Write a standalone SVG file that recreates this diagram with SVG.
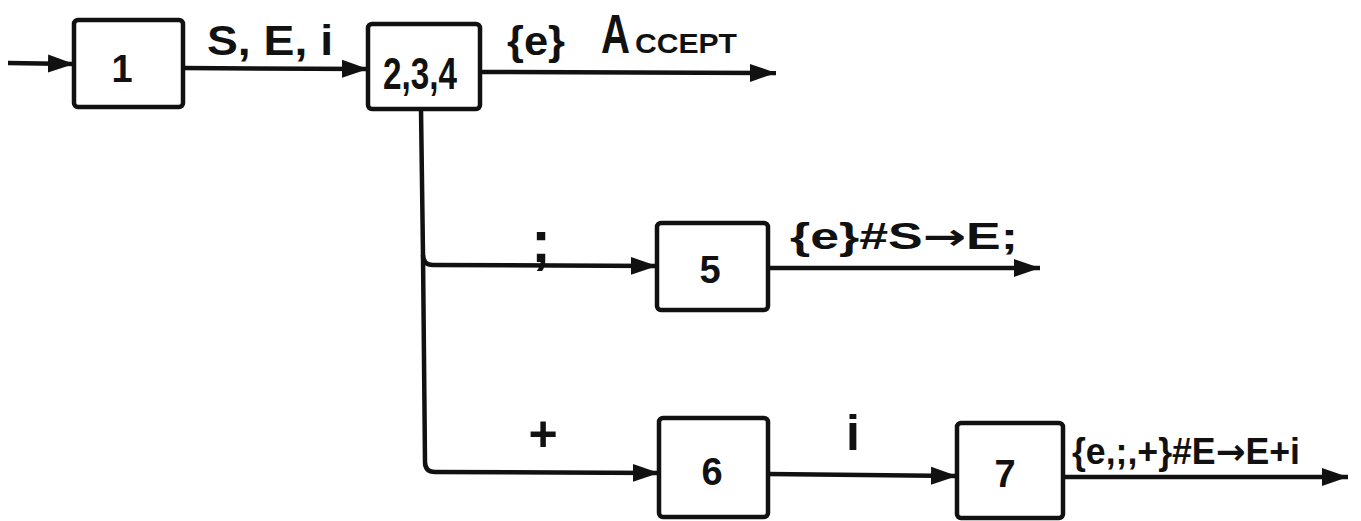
<svg xmlns="http://www.w3.org/2000/svg" width="1361" height="521" viewBox="0 0 1361 521">
<style>
.box{fill:#fff;stroke:#111;stroke-width:4.5}
.edge{fill:none;stroke:#111;stroke-width:4.5;stroke-linejoin:round}
text{font-family:"Liberation Sans","DejaVu Sans",sans-serif;fill:#111;font-weight:bold}
.n{text-anchor:middle;font-size:38px}
.arr{font-family:"DejaVu Sans",sans-serif}
</style>
<defs>
<marker id="ah" markerUnits="userSpaceOnUse" markerWidth="28" markerHeight="20" refX="26" refY="10" orient="auto">
<path d="M0,1 L26,10 L0,19 Z" fill="#111"/>
</marker>
</defs>
<rect width="1361" height="521" fill="#fff"/>
<g id="connectors">
<path class="edge" d="M8,63 L74,64" marker-end="url(#ah)"/>
<path class="edge" d="M183,68 L368,69" marker-end="url(#ah)"/>
<path class="edge" d="M480,72 L776,73" marker-end="url(#ah)"/>
<path class="edge" d="M421,109 L423,255 Q423,265 433,265 L657,266" marker-end="url(#ah)"/>
<path class="edge" d="M423,255 L425,462 Q425,472 435,472 L659,473" marker-end="url(#ah)"/>
<path class="edge" d="M768,268 L1040,268" marker-end="url(#ah)"/>
<path class="edge" d="M768,474 L957,476" marker-end="url(#ah)"/>
<path class="edge" d="M1063,477 L1348,477" marker-end="url(#ah)"/>
<text x="207" y="55" font-size="42" textLength="126" lengthAdjust="spacingAndGlyphs">S, E, i</text>
<text x="507" y="55" font-size="40" textLength="58" lengthAdjust="spacingAndGlyphs">{e}</text>
<text x="601" y="53" font-size="56" textLength="29" lengthAdjust="spacingAndGlyphs">A</text>
<text x="635" y="53" font-size="28" textLength="102" lengthAdjust="spacingAndGlyphs">CCEPT</text>
<text x="541" y="262" font-size="60" text-anchor="middle">;</text>
<text x="790" y="249" font-size="36" textLength="228" lengthAdjust="spacingAndGlyphs">{e}#S<tspan class="arr">→</tspan>E;</text>
<text x="543" y="451" font-size="50" text-anchor="middle">+</text>
<text x="853" y="450" font-size="50" text-anchor="middle">i</text>
<text x="1072" y="464" font-size="36" textLength="228" lengthAdjust="spacingAndGlyphs">{e,;,+}#E<tspan class="arr">→</tspan>E+i</text>
</g>
<g id="node1">
<rect class="box" x="74" y="20" width="109" height="87" rx="4"/>
<text class="n" x="122" y="82">1</text>
</g>
<g id="node234">
<rect class="box" x="368" y="24" width="112" height="85" rx="4"/>
<text x="383" y="89" font-size="44" textLength="74" lengthAdjust="spacingAndGlyphs">2,3,4</text>
</g>
<g id="node5">
<rect class="box" x="657" y="223" width="111" height="87" rx="4"/>
<text class="n" x="710" y="283" font-size="36">5</text>
</g>
<g id="node6">
<rect class="box" x="659" y="418" width="109" height="99" rx="4"/>
<text class="n" x="712" y="485">6</text>
</g>
<g id="node7">
<rect class="box" x="957" y="423" width="106" height="95" rx="4"/>
<text class="n" x="1005" y="487">7</text>
</g>
</svg>
